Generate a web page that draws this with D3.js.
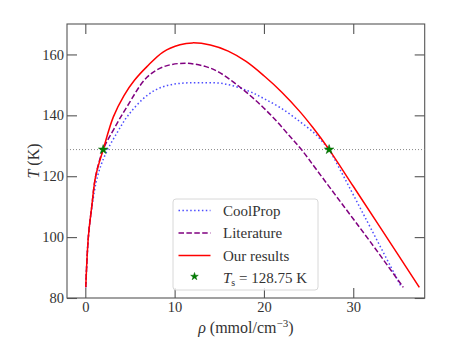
<!DOCTYPE html>
<html>
<head>
<meta charset="utf-8">
<script src="https://cdn.jsdelivr.net/npm/d3@7"></script>
<style>
  body { margin: 0; background: #fff; }
  svg { display: block; }
  text { font-family: "Liberation Serif", "DejaVu Serif", serif; fill: #333; }
</style>
</head>
<body>
<svg width="449" height="359"></svg>
<script>
// Data (rho in mmol/cm^-3, T in K)
var rhoCoolProp = [0.05, 0.34, 0.75, 1.37, 2.28, 3.6, 4.8, 6.9, 8.7, 10.6, 12.8, 15.5, 18.25, 20, 22, 24, 25.7, 26.8, 27.3, 28.5, 30.7, 35.4];
var tCoolProp   = [83.5, 100, 110, 120, 127.4, 134.5, 140, 146.5, 149.4, 150.5, 150.7, 150.4, 148, 145.5, 142.2, 138, 134, 130.5, 128.75, 122.3, 110, 83.5];

var rhoLit = [0.05, 0.34, 0.72, 1.16, 2.0, 3.2, 4.7, 6.9, 8.8, 11.2, 13.5, 15, 17, 19, 21, 23, 24.2, 26, 29, 32, 35.6];
var tLit   = [83.5, 100, 110, 120, 128.75, 135.5, 143, 152.5, 156, 157.1, 156.0, 154.1, 150, 145.1, 139.4, 132.8, 128.75, 121.7, 109.9, 98.1, 83.5];

var rhoOur = [0.05, 0.34, 0.72, 1.16, 2.0, 3.14, 4.33, 5.5, 6.9, 8.7, 10.6, 12, 14, 16, 18, 20, 22, 24, 25.5, 27.3, 30, 33, 37.4];
var tOur   = [83.5, 100, 110, 120, 128.75, 139.5, 146.5, 151.5, 156, 160.8, 163.2, 163.8, 163.1, 161.1, 157.7, 153.0, 147.6, 141.3, 135.9, 128.75, 116.7, 103.3, 83.5];

var tSat = 128.75;
var rhoStars = [2.0, 27.3];

var xTicks = [0, 10, 20, 30];
var yTicks = [80, 100, 120, 140, 160];

var svg = d3.select("svg");
var margin = {top: 24, left: 67, bottom: 61, right: 24.3};
var width = +svg.attr("width") - margin.left - margin.right;
var height = +svg.attr("height") - margin.top - margin.bottom;

var xScale = d3.scaleLinear().domain([-2.05, 38]).range([margin.left, margin.left + width]);
var yScale = d3.scaleLinear().domain([80, 170]).range([margin.top + height, margin.top]);

function toPoints(xs, ys) {
    return xs.map(function(x, i) { return [x, ys[i]]; });
}

var line = d3.line()
    .x(function(d) { return xScale(d[0]); })
    .y(function(d) { return yScale(d[1]); })
    .curve(d3.curveCatmullRom.alpha(0.5));

// Axes with inward ticks on all four sides
var axisColor = "#555";
var tickLen = 10;

var bottomG = svg.append("g")
    .attr("transform", "translate(0," + (margin.top + height) + ")")
    .call(d3.axisBottom(xScale).tickValues(xTicks).tickSize(-tickLen).tickPadding(4));
var topG = svg.append("g")
    .attr("transform", "translate(0," + margin.top + ")")
    .call(d3.axisTop(xScale).tickValues(xTicks).tickSize(-tickLen).tickFormat(""));
var leftG = svg.append("g")
    .attr("transform", "translate(" + margin.left + ",0)")
    .call(d3.axisLeft(yScale).tickValues(yTicks).tickSize(-tickLen).tickPadding(3));
var rightG = svg.append("g")
    .attr("transform", "translate(" + (margin.left + width) + ",0)")
    .call(d3.axisRight(yScale).tickValues(yTicks).tickSize(-tickLen).tickFormat(""));

[bottomG, topG, leftG, rightG].forEach(function(g) {
    g.attr("font-family", null);
    g.select(".domain").remove();
    g.selectAll(".tick line").attr("stroke", axisColor).attr("stroke-width", 1.1);
    g.selectAll(".tick text")
        .style("font-family", "'Liberation Serif', serif")
        .attr("font-size", 14.5)
        .attr("fill", "#333");
});

svg.append("rect")
    .attr("x", margin.left)
    .attr("y", margin.top)
    .attr("width", width)
    .attr("height", height)
    .attr("fill", "none")
    .attr("stroke", axisColor)
    .attr("stroke-width", 1.1);

// Saturation temperature line
svg.append("line")
    .attr("x1", margin.left)
    .attr("x2", margin.left + width)
    .attr("y1", yScale(tSat))
    .attr("y2", yScale(tSat))
    .attr("stroke", "#888")
    .attr("stroke-width", 1)
    .attr("stroke-dasharray", "1,2");

// Curves
var series = [
    {name: "CoolProp", pts: toPoints(rhoCoolProp, tCoolProp), color: "#3838ff", dash: "1.5,2.4", opacity: 0.9},
    {name: "Literature", pts: toPoints(rhoLit, tLit), color: "#800080", dash: "5.5,2.4", opacity: 1},
    {name: "Our results", pts: toPoints(rhoOur, tOur), color: "#ff0000", dash: null, opacity: 1}
];

series.forEach(function(s) {
    svg.append("path")
        .datum(s.pts)
        .attr("d", line)
        .attr("fill", "none")
        .attr("stroke", s.color)
        .attr("stroke-opacity", s.opacity)
        .attr("stroke-width", 1.5)
        .attr("stroke-dasharray", s.dash);
});

// Stars at the saturation points
var star = d3.symbol().type(d3.symbolStar);
svg.selectAll(".star")
    .data(rhoStars)
    .enter()
    .append("path")
    .attr("class", "star")
    .attr("transform", function(d) { return "translate(" + [xScale(d), yScale(tSat)] + ")"; })
    .attr("d", star.size(28))
    .attr("fill", "#008000")
    .attr("stroke", "#006400")
    .attr("stroke-width", 0.5);

// Axis labels
var yLabel = svg.append("text")
    .attr("transform", "translate(39," + (margin.top + height / 2) + ") rotate(-90)")
    .attr("text-anchor", "middle")
    .attr("font-size", 16);
yLabel.append("tspan").attr("font-style", "italic").text("T");
yLabel.append("tspan").text(" (K)");

var xLabel = svg.append("text")
    .attr("x", margin.left + width / 2)
    .attr("y", 333)
    .attr("text-anchor", "middle")
    .attr("font-size", 16);
xLabel.append("tspan").attr("font-style", "italic").text("ρ");
xLabel.append("tspan").text(" (mmol/cm");
xLabel.append("tspan").attr("font-size", 11).attr("dy", -6).text("−3");
xLabel.append("tspan").attr("dy", 6).text(")");

// Legend
var legend = svg.append("g").attr("transform", "translate(173,199)");
legend.append("rect")
    .attr("width", 145)
    .attr("height", 91)
    .attr("rx", 3)
    .attr("fill", "#fff")
    .attr("fill-opacity", 0.8)
    .attr("stroke", "#d8d8d8")
    .attr("stroke-width", 1);

var rowY = [11.5, 34, 56.5, 78.5];
series.forEach(function(s, i) {
    legend.append("line")
        .attr("x1", 5.5)
        .attr("x2", 37.5)
        .attr("y1", rowY[i])
        .attr("y2", rowY[i])
        .attr("stroke", s.color)
        .attr("stroke-opacity", s.opacity)
        .attr("stroke-width", 1.5)
        .attr("stroke-dasharray", s.dash);
    legend.append("text")
        .attr("x", 50)
        .attr("y", rowY[i] + 5)
        .attr("font-size", 15)
        .text(s.name);
});

legend.append("path")
    .attr("transform", "translate(21.5," + (rowY[3] - 1) + ")")
    .attr("d", star.size(18))
    .attr("fill", "#008000")
    .attr("stroke", "#006400")
    .attr("stroke-width", 0.5);

var tsText = legend.append("text")
    .attr("x", 50)
    .attr("y", rowY[3] + 5)
    .attr("font-size", 15);
tsText.append("tspan").attr("font-style", "italic").text("T");
tsText.append("tspan").attr("font-size", 10).attr("dy", 3).text("s");
tsText.append("tspan").attr("dy", -3).text(" = 128.75 K");
</script>
</body>
</html>
